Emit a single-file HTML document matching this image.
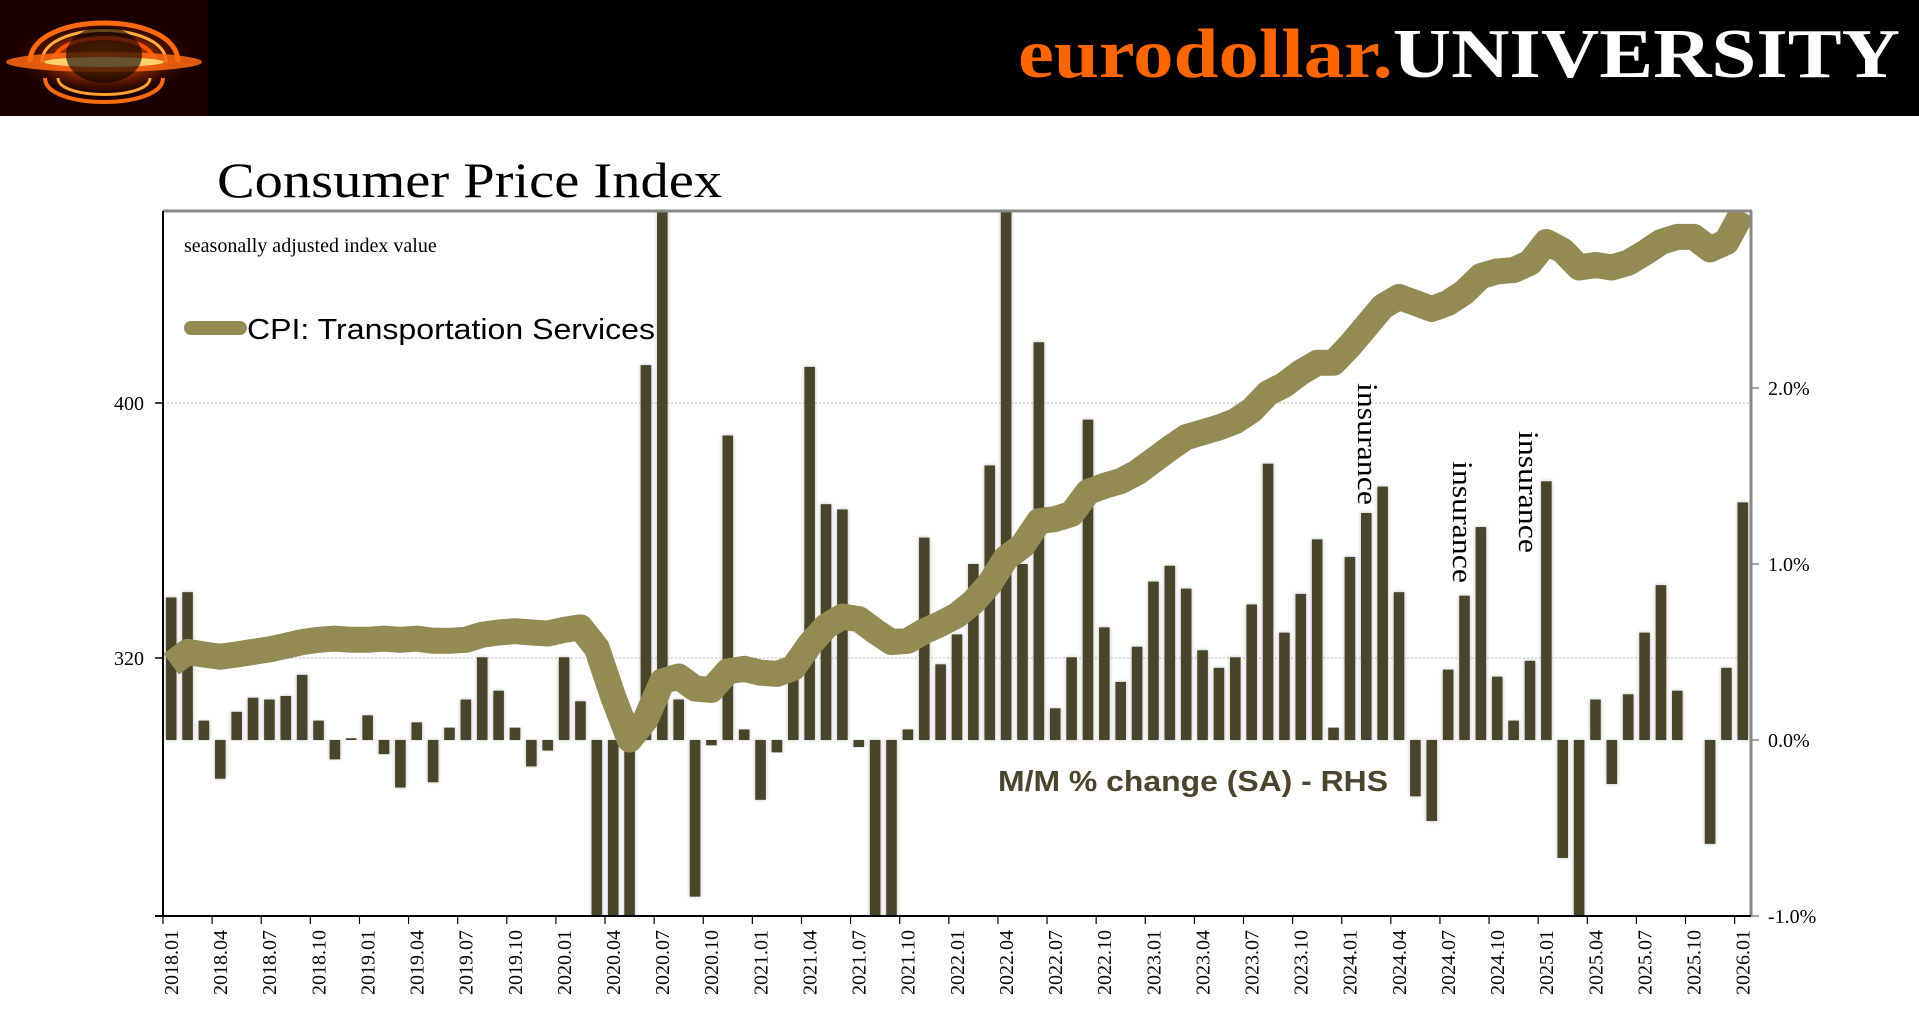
<!DOCTYPE html>
<html><head><meta charset="utf-8"><title>Consumer Price Index</title>
<style>
html,body{margin:0;padding:0;background:#fff;width:1919px;height:1016px;overflow:hidden}
svg{display:block}
</style></head>
<body>
<svg id="chart" width="1919" height="1016" viewBox="0 0 1919 1016" xmlns="http://www.w3.org/2000/svg">
  <defs>
    <radialGradient id="glow" cx="50%" cy="50%" r="50%">
      <stop offset="0%" stop-color="#ffb000"/>
      <stop offset="45%" stop-color="#ff5a00"/>
      <stop offset="100%" stop-color="#300000" stop-opacity="0"/>
    </radialGradient>
    <clipPath id="plotclip"><rect x="163" y="211" width="1588" height="705"/></clipPath>
    <filter id="shadow" x="-30%" y="-5%" width="160%" height="110%">
      <feDropShadow dx="0" dy="0" stdDeviation="2" flood-color="#000" flood-opacity="0.25"/>
    </filter>
  </defs>
  <rect x="0" y="0" width="1919" height="116" fill="#000"/>
  <g>
    <rect x="0" y="0" width="208" height="116" fill="#1a0000"/>
    <ellipse cx="104" cy="58" rx="95" ry="40" fill="url(#glow)" opacity="0.55"/>
    <path d="M30,62 C30,10 178,10 178,62" fill="none" stroke="#ff6a10" stroke-width="5"/>
    <path d="M42,62 C42,20 166,20 166,62" fill="none" stroke="#ffae40" stroke-width="3"/>
    <path d="M54,62 C54,30 154,30 154,62" fill="none" stroke="#ff5000" stroke-width="4"/>
    <path d="M45,78 C45,110 163,110 163,78" fill="none" stroke="#ff6a10" stroke-width="4"/>
    <path d="M58,78 C58,100 150,100 150,78" fill="none" stroke="#ffa030" stroke-width="3"/>
    <ellipse cx="104" cy="62" rx="98" ry="10" fill="#ff6a10" opacity="0.85"/>
    <ellipse cx="104" cy="62" rx="60" ry="5" fill="#ffd070"/>
    <ellipse cx="104" cy="55" rx="38" ry="28" fill="#000" opacity="0.6"/>
  </g>
  <text x="1018" y="77" font-family="Liberation Serif, serif" font-weight="bold" font-size="70" textLength="882" lengthAdjust="spacingAndGlyphs"><tspan fill="#ff6600">eurodollar.</tspan><tspan fill="#ffffff">UNIVERSITY</tspan></text>

  <text x="217" y="197" font-family="Liberation Serif, serif" font-size="50" fill="#000" textLength="505" lengthAdjust="spacingAndGlyphs">Consumer Price Index</text>

  <g id="grid"></g>
  <g id="bars" clip-path="url(#plotclip)"></g>
  <g id="line" clip-path="url(#plotclip)"></g>
  <g id="axes"></g>

  <text x="184" y="252" font-family="Liberation Serif, serif" font-size="20" fill="#000">seasonally adjusted index value</text>
  <g>
    <line x1="191" y1="328" x2="240" y2="328" stroke="#948a54" stroke-width="14" stroke-linecap="round"/>
    <text x="247" y="339" font-family="Liberation Sans, sans-serif" font-size="29" fill="#000" textLength="408" lengthAdjust="spacingAndGlyphs">CPI: Transportation Services</text>
  </g>
  <text x="998" y="791" font-family="Liberation Sans, sans-serif" font-weight="bold" font-size="29" fill="#4a452c" textLength="390" lengthAdjust="spacingAndGlyphs">M/M % change (SA) - RHS</text>
  <text transform="translate(1358,383) rotate(90)" font-family="Liberation Serif, serif" font-size="29" fill="#000" textLength="122" lengthAdjust="spacingAndGlyphs">insurance</text>
  <text transform="translate(1453,461) rotate(90)" font-family="Liberation Serif, serif" font-size="29" fill="#000" textLength="122" lengthAdjust="spacingAndGlyphs">insurance</text>
  <text transform="translate(1519,431) rotate(90)" font-family="Liberation Serif, serif" font-size="29" fill="#000" textLength="122" lengthAdjust="spacingAndGlyphs">insurance</text>
</svg>
<script>
const categoryStart = [2018, 1];
const momChange = [0.81,0.84,0.11,-0.22,0.16,0.24,0.23,0.25,0.37,0.11,-0.11,0.01,
0.14,-0.08,-0.27,0.10,-0.24,0.07,0.23,0.47,0.28,0.07,-0.15,-0.06,
0.47,0.22,-1.6,-1.4,-1.2,2.13,3.5,0.23,-0.89,-0.03,1.73,0.06,
-0.34,-0.07,0.35,2.12,1.34,1.31,-0.04,-1.2,-1.3,0.06,1.15,0.43,
0.6,1.0,1.56,3.4,1.0,2.26,0.18,0.47,1.82,0.64,0.33,0.53,
0.90,0.99,0.86,0.51,0.41,0.47,0.77,1.57,0.61,0.83,1.14,0.07,
1.04,1.29,1.44,0.84,-0.32,-0.46,0.40,0.82,1.21,0.36,0.11,0.45,
1.47,-0.67,-1.05,0.23,-0.25,0.26,0.61,0.88,0.28,null,-0.59,0.41,
1.35];
const cpiIndex = [318.1,321.9,321.1,320.4,321.1,321.9,322.7,323.8,325.0,325.7,326.1,325.7,
325.7,326.1,325.7,326.1,325.4,325.4,325.7,327.3,328.0,328.4,328.0,327.7,
328.8,329.6,323.1,307.8,294.4,300.9,312.7,314.2,310.4,310.0,315.8,316.6,
315.4,315.0,316.9,324.2,329.9,333.0,332.2,328.4,325.0,325.4,328.4,330.7,
333.4,337.6,343.3,351.4,355.2,362.9,363.6,365.2,372.1,374.0,375.5,378.2,
382.0,385.8,389.3,390.8,392.3,394.3,397.7,403.1,405.7,409.6,412.6,412.6,
418.0,424.1,430.2,433.3,431.4,429.5,431.4,434.8,439.8,441.3,441.7,444.0,
450.5,447.8,442.5,443.3,442.5,444.0,447.1,450.5,452.1,452.1,448.2,450.5,
460.0];
const leftTicks = [320, 400];
const leftTickLabels = ['320', '400'];
const rightTicks = [-1, 0, 1, 2];
const rightTickLabels = ['-1.0%', '0.0%', '1.0%', '2.0%'];

const NS = 'http://www.w3.org/2000/svg';
const PL = 163, PR = 1751, PT = 211, PB = 916;
const n = momChange.length;
const band = (PR - PL) / n;
function xBand(i){ return PL + i * band; }
function xCenter(i){ return PL + (i + 0.5) * band; }
function yLeft(v){ return 658 + (320 - v) * (658 - 403) / 80; }
function yRight(v){ return 740 - v * 176; }
function mk(tag, attrs, parent){
  const e = document.createElementNS(NS, tag);
  for (const k in attrs) e.setAttribute(k, attrs[k]);
  parent.appendChild(e); return e;
}
function label(i){
  const t = categoryStart[0]*12 + (categoryStart[1]-1) + i;
  const y = Math.floor(t/12), m = t%12 + 1;
  return y + '.' + (m < 10 ? '0' + m : m);
}

const grid = document.getElementById('grid');
leftTicks.forEach((v) => {
  const g = mk('line', {x1:PL, x2:PR, y1:yLeft(v), y2:yLeft(v), stroke:'#bbb', 'stroke-width':1, 'stroke-dasharray':'2,2'}, grid);
  
  
});

const bars = document.getElementById('bars');
const bw = 10.6;
momChange.forEach((v, i) => {
  if (v === null) return;
  const y0 = yRight(0), y1 = yRight(v);
  const r = mk('rect', {x: xCenter(i) - bw/2, y: Math.min(y0, y1), width: bw, height: Math.abs(y1 - y0), fill:'#4a452c', filter:'url(#shadow)'}, bars);
  
  
});

const lineG = document.getElementById('line');
const pts = cpiIndex.map((v, i) => xCenter(i).toFixed(1) + ',' + yLeft(v).toFixed(1)).join(' ');
const pl = mk('polyline', {points: pts, fill:'none', stroke:'#948a54', 'stroke-width':26, 'stroke-linejoin':'round', 'stroke-linecap':'butt'}, lineG);



const axes = document.getElementById('axes');
const topB = mk('line', {x1:PL, x2:PR+1, y1:PT, y2:PT, stroke:'#888', 'stroke-width':3}, axes);


const ra = mk('line', {x1:PR, x2:PR, y1:PT, y2:PB, stroke:'#888', 'stroke-width':3}, axes);


const la = mk('line', {x1:PL, x2:PL, y1:PT, y2:PB, stroke:'#000', 'stroke-width':2}, axes);


const xa = mk('line', {x1:PL-8, x2:PR, y1:PB, y2:PB, stroke:'#000', 'stroke-width':2}, axes);



leftTicks.forEach((v, k) => {
  const tk = mk('line', {x1:PL-8, x2:PL, y1:yLeft(v), y2:yLeft(v), stroke:'#000', 'stroke-width':1.5}, axes);
  
  
  const t = mk('text', {x:144, y:yLeft(v)+7, 'text-anchor':'end', 'font-family':'Liberation Serif, serif', 'font-size':20, fill:'#000'}, axes);
  t.textContent = leftTickLabels[k];
  
  
});
rightTicks.forEach((v, k) => {
  const tk = mk('line', {x1:PR, x2:PR+8, y1:yRight(v), y2:yRight(v), stroke:'#888', 'stroke-width':1.5}, axes);
  
  
  const t = mk('text', {x:1768, y:yRight(v)+7, 'font-family':'Liberation Serif, serif', 'font-size':20, fill:'#000'}, axes);
  t.textContent = rightTickLabels[k];
  
  
});
for (let i = 0; i < n; i += 3) {
  const x = xBand(i);
  const tk = mk('line', {x1:x, x2:x, y1:PB, y2:PB+8, stroke:'#000', 'stroke-width':1.2}, axes);
  
  
  const t = mk('text', {transform:'translate(' + (x + 15) + ',930) rotate(-90)', 'text-anchor':'end', 'font-family':'Liberation Serif, serif', 'font-size':20, fill:'#000'}, axes);
  t.textContent = label(i);
  
  
}
</script>
</body></html>
